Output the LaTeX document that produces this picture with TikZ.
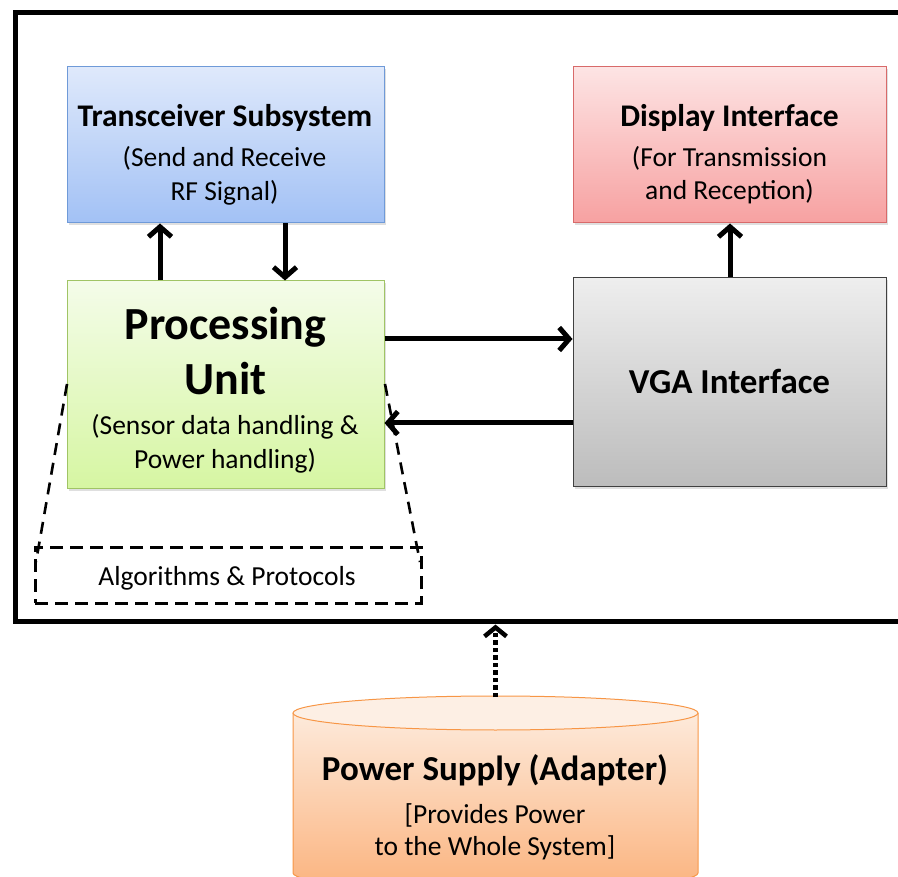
\documentclass[tikz,border=0pt]{standalone}
\usepackage{fontspec}
\setmainfont{Carlito}
\usetikzlibrary{arrows.meta,shadows}

\definecolor{trxTop}{HTML}{DFE9FB}
\definecolor{trxBot}{HTML}{A2C1F5}
\definecolor{trxLine}{HTML}{6F9AD8}
\definecolor{dspTop}{HTML}{FDE4E4}
\definecolor{dspBot}{HTML}{F7A1A1}
\definecolor{dspLine}{HTML}{D86A6A}
\definecolor{proTop}{HTML}{F4FCE9}
\definecolor{proBot}{HTML}{D6F6A2}
\definecolor{proLine}{HTML}{A0C465}
\definecolor{vgaTop}{HTML}{EEEEEE}
\definecolor{vgaBot}{HTML}{BCBCBC}
\definecolor{vgaLine}{HTML}{404040}
\definecolor{psTop}{HTML}{FDEADB}
\definecolor{psBot}{HTML}{FBB37E}
\definecolor{psCap}{HTML}{FDEFE4}
\definecolor{psLine}{HTML}{F79646}

\tikzset{
  blockbox/.style={rectangle, line width=1pt, inner sep=0pt,
    drop shadow={shadow xshift=1.5pt, shadow yshift=-2pt, opacity=0.25}},
  lbl/.style={inner sep=0pt, anchor=base, text=black},
  ttl/.style={lbl, font=\fontsize{31.5}{36}\selectfont\bfseries},
  subl/.style={lbl, font=\fontsize{27.5}{33}\selectfont},
  big/.style={lbl, font=\fontsize{46}{54}\selectfont\bfseries},
  mid/.style={lbl, font=\fontsize{35}{40}\selectfont\bfseries},
  arr/.style={line width=5pt, -{Straight Barb[length=10pt,width=23pt]}},
  dotarr/.style={line width=4.5pt, dash pattern=on 4.5pt off 3pt,
    -{Straight Barb[length=9pt,width=22pt]}},
  algobox/.style={draw, line width=3pt, dash pattern=on 13pt off 7pt},
  funnel/.style={line width=2.6pt, dash pattern=on 12pt off 8pt},
  frameline/.style={line width=5.5pt}
}

\begin{document}
\begin{tikzpicture}[x=1pt,y=-1pt]
\useasboundingbox (0,0) rectangle (898,877);

% outer system frame (open to the right)
\coordinate (fTR) at (960,12.5);
\coordinate (fTL) at (15.5,12.5);
\coordinate (fBL) at (15.5,621.5);
\coordinate (fBR) at (960,621.5);
\draw[frameline] (fTR) -- (fTL) -- (fBL) -- (fBR);

% transceiver block
\node[blockbox, draw=trxLine, top color=trxTop, bottom color=trxBot,
      minimum width=317pt, minimum height=156pt] (trx) at (225.5,145) {};
\node[ttl]  (trx1) at (225,127) {Transceiver Subsystem};
\node[subl] (trx2) at (224.5,167) {(Send and Receive};
\node[subl] (trx3) at (224.5,201) {RF Signal)};

% display block
\node[blockbox, draw=dspLine, top color=dspTop, bottom color=dspBot,
      minimum width=313pt, minimum height=156pt] (dsp) at (729.5,145) {};
\node[ttl]  (dsp1) at (729.5,127) {Display Interface};
\node[subl] (dsp2) at (729.5,167) {(For Transmission};
\node[subl] (dsp3) at (729.5,200) {and Reception)};

% processing block
\node[blockbox, draw=proLine, top color=proTop, bottom color=proBot,
      minimum width=317pt, minimum height=208pt] (pro) at (225.5,385) {};
\node[big]  (pro1) at (225.5,340) {Processing};
\node[big]  (pro2) at (225.5,395) {Unit};
\node[subl] (pro3) at (225,435) {(Sensor data handling \&};
\node[subl] (pro4) at (225,469) {Power handling)};

% VGA block
\node[blockbox, draw=vgaLine, top color=vgaTop, bottom color=vgaBot,
      minimum width=313pt, minimum height=209pt] (vga) at (729.5,382.5) {};
\node[mid] (vga1) at (729.5,394) {VGA Interface};

% algorithms block hanging below the processing unit
\node[algobox, minimum width=386pt, minimum height=56pt, inner sep=0pt] (algo) at (228,575) {};
\node[subl] (algo1) at (227,585) {Algorithms \& Protocols};
\coordinate (fl1) at (67,384);
\coordinate (fl2) at (36,562);
\coordinate (fr1) at (385,384);
\coordinate (fr2) at (420,562);
\draw[funnel] (fl1) -- (fl2);
\draw[funnel] (fr1) -- (fr2);

% power supply cylinder
\shade[top color=psTop, bottom color=psBot]
  (293,713) -- (293,873) arc[start angle=180, end angle=360, x radius=202.5pt, y radius=17pt]
  -- (698,713) arc[start angle=0, end angle=180, x radius=202.5pt, y radius=-17pt] -- cycle;
\draw[psLine, line width=1pt]
  (293,713) -- (293,873) arc[start angle=180, end angle=360, x radius=202.5pt, y radius=17pt]
  -- (698,713);
\draw[psLine, line width=1pt, fill=psCap] (495.5,713) ellipse[x radius=202.5pt, y radius=17pt];
\coordinate (psNorth) at (495.5,697);
\node[mid]  (ps1) at (495,780) {Power Supply (Adapter)};
\node[subl] (ps2) at (495,823) {[Provides Power};
\node[subl] (ps3) at (495,855) {to the Whole System]};

% connectors
\coordinate (c1) at (160,0);
\coordinate (c2) at (285,0);
\coordinate (c3) at (730,0);
\coordinate (c4) at (0,339);
\coordinate (c5) at (0,423);
\coordinate (frameHit) at (495.5,624.5);
\draw[arr] (pro.north -| c1) -- (trx.south -| c1);
\draw[arr] (trx.south -| c2) -- (pro.north -| c2);
\draw[arr] (vga.north -| c3) -- (dsp.south -| c3);
\draw[arr] (pro.east |- c4) -- (vga.west |- c4);
\draw[arr] (vga.west |- c5) -- (pro.east |- c5);
\draw[dotarr] (psNorth) -- (frameHit);
\end{tikzpicture}
\end{document}
